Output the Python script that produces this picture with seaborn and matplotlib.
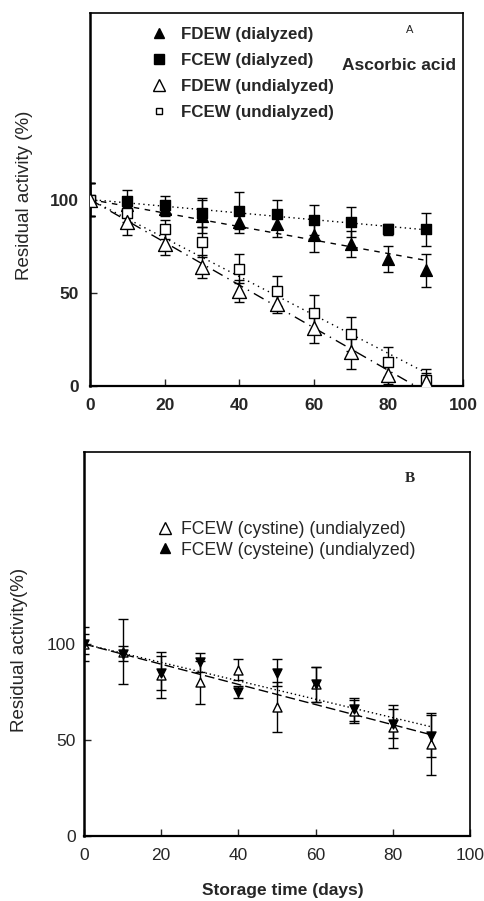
import matplotlib
matplotlib.use("Agg")
import matplotlib.pyplot as plt
from matplotlib.lines import Line2D
import numpy as np
import pandas as pd
import seaborn as sns

# ---------------- data ----------------
days = [0, 10, 20, 30, 40, 50, 60, 70, 80, 90]

# Panel A (ascorbic acid)
a_fdew_dial = [100, 97, 95, 91, 88, 87, 81, 76, 68, 62]
a_fdew_dial_err = [9, 4, 4, 9, 6, 7, 9, 7, 7, 9]
a_fcew_dial = [100, 99, 97, 93, 94, 92, 89, 88, 84, 84]
a_fcew_dial_err = [9, 6, 5, 8, 10, 8, 8, 8, 3, 9]
a_fdew_undial = [100, 88, 76, 64, 51, 44, 31, 18, 6, 2]
a_fdew_undial_err = [9, 7, 6, 6, 6, 5, 8, 9, 5, 5]
a_fcew_undial = [100, 93, 84, 77, 63, 51, 39, 28, 13, 3]
a_fcew_undial_err = [9, 5, 5, 8, 8, 8, 10, 9, 8, 6]
a_labels = ["FDEW (dialyzed)", "FCEW (dialyzed)", "FDEW (undialyzed)", "FCEW (undialyzed)"]

# Panel B (cystine / cysteine)
b_cystine = [100, 96, 84, 80, 86.5, 67, 79, 65, 57, 48]
b_cystine_err = [9, 17, 12, 11, 5.5, 13, 9, 6, 11, 16]
b_cysteine = [100, 95, 85, 90.5, 75, 85, 79, 66, 58.5, 52]
b_cysteine_err = [5, 4, 9, 5, 3, 7, 9, 6, 7.5, 11]
b_labels = ["FCEW (cystine) (undialyzed)", "FCEW (cysteine) (undialyzed)"]

x_ticks = [0, 20, 40, 60, 80, 100]
y_ticks = [0, 50, 100]

# ---------------- style ----------------
sns.set_style("white")
plt.rcParams["font.family"] = ["Liberation Sans", "DejaVu Sans"]
SANS = ["Liberation Sans", "DejaVu Sans"]

W, H = 484, 901
fig = plt.figure(figsize=(W / 100, H / 100), dpi=100)
axA = fig.add_axes([90 / W, 1 - 386 / H, 373 / W, 373 / H])
axB = fig.add_axes([84 / W, 1 - 836 / H, 386 / W, 384 / H])


def series(ax, y, err, marker, ms, filled, ls, lw=1.0):
    x = np.asarray(days, float)
    yy = np.asarray(y, float)
    y0 = yy[0]
    # least-squares trend line anchored at the initial activity
    slope = np.sum(x * (yy - y0)) / np.sum(x * x)
    df = pd.DataFrame({"x": x, "y": yy, "fit": y0 + slope * x})
    sns.lineplot(data=df, x="x", y="fit", ax=ax, color="black", lw=lw,
                 ls=ls, zorder=2, legend=False)
    ax.errorbar(days, y, yerr=err, fmt="none", ecolor="black",
                elinewidth=1.0, capsize=3.5, capthick=1.0, zorder=3)
    sns.scatterplot(data=df, x="x", y="y", ax=ax, marker=marker, s=ms ** 2,
                    color="black" if filled else "white", edgecolor="black",
                    linewidth=1.0, zorder=4, legend=False)


# ---------- Panel A ----------
series(axA, a_fcew_dial, a_fcew_dial_err, "s", 7.5, True, (0, (1, 2.5)))
series(axA, a_fdew_dial, a_fdew_dial_err, "^", 8.5, True, (0, (4, 4)))
series(axA, a_fcew_undial, a_fcew_undial_err, "s", 6.5, False, (0, (1, 3)))
series(axA, a_fdew_undial, a_fdew_undial_err, "^", 10, False, (0, (8, 4, 1, 4)))

# ---------- Panel B ----------
series(axB, b_cystine, b_cystine_err, "^", 6.5, False, (0, (7, 3)))
series(axB, b_cysteine, b_cysteine_err, "v", 6.5, True, (0, (1, 2)))

for ax in (axA, axB):
    ax.set_xlim(0, 100)
    ax.set_ylim(0, 200)
    ax.set_xticks(x_ticks)
    ax.set_yticks(y_ticks)
    ax.set_xlabel("")
    ax.set_ylabel("")
    ax.tick_params(direction="in", length=5, width=1, top=False, right=False,
                   left=True, bottom=True)
    for s in ax.spines.values():
        s.set_color("black")
        s.set_linewidth(1.2)
    ax.spines["left"].set_linewidth(1.8)
    ax.spines["bottom"].set_linewidth(1.6)

# tick label fonts
axA.tick_params(axis="x", pad=9)
axA.tick_params(axis="y", pad=8)
for t in axA.get_xticklabels() + axA.get_yticklabels():
    t.set_fontfamily(SANS)
    t.set_fontweight("bold")
    t.set_fontsize(12.5)
axB.tick_params(axis="x", pad=9)
axB.tick_params(axis="y", pad=6)
for t in axB.get_xticklabels() + axB.get_yticklabels():
    t.set_fontfamily(SANS)
    t.set_fontsize(12.5)

# legends
hA = [
    Line2D([], [], ls="none", marker="^", ms=7, mfc="black", mec="black"),
    Line2D([], [], ls="none", marker="s", ms=7, mfc="black", mec="black"),
    Line2D([], [], ls="none", marker="^", ms=9, mfc="white", mec="black", mew=1),
    Line2D([], [], ls="none", marker="s", ms=5, mfc="white", mec="black", mew=1),
]
legA = axA.legend(hA, a_labels, loc="upper left", bbox_to_anchor=(151 / W, 1 - 27 / H),
                  bbox_transform=fig.transFigure, frameon=False, borderpad=0,
                  borderaxespad=0, handlelength=1.0, handletextpad=0.75,
                  labelspacing=0.64, prop=dict(family=SANS, size=12.2, weight="bold"))

hB = [
    Line2D([], [], ls="none", marker="^", ms=8, mfc="white", mec="black", mew=1),
    Line2D([], [], ls="none", marker="^", ms=7, mfc="black", mec="black"),
]
legB = axB.legend(hB, b_labels, loc="upper left", bbox_to_anchor=(156 / W, 1 - 521 / H),
                  bbox_transform=fig.transFigure, frameon=False, borderpad=0,
                  borderaxespad=0, handlelength=1.0, handletextpad=0.4,
                  labelspacing=0.2, prop=dict(family=SANS, size=12.7))

# panel annotations
fig.text(410 / W, 1 - 30 / H, "A", ha="center", va="center", fontsize=8,
         family=SANS)
fig.text(399 / W, 1 - 65 / H, "Ascorbic acid", ha="center", va="center",
         fontsize=12.5, family=SANS, weight="bold")
fig.text(410 / W, 1 - 478 / H, "B", ha="center", va="center", fontsize=11,
         family=["Liberation Serif", "DejaVu Serif"], weight="bold")

# axis labels
fig.text(25 / W, 1 - 195 / H, "Residual activity (%)", rotation=90,
         ha="center", va="center", fontsize=13.5, family=SANS)
fig.text(20 / W, 1 - 650 / H, "Residual activity(%)", rotation=90,
         ha="center", va="center", fontsize=13.5, family=SANS)
fig.text(283 / W, 1 - 891 / H, "Storage time (days)", ha="center", va="center",
         fontsize=12.5, family=SANS, weight="bold")

fig.savefig("out.png", dpi=100)
